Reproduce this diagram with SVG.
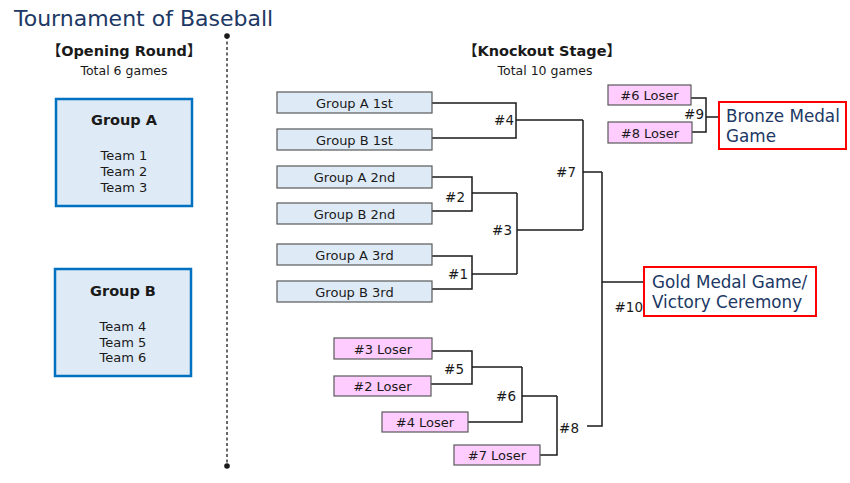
<svg xmlns="http://www.w3.org/2000/svg" width="850" height="483" viewBox="0 0 850 483">
<style>
text{font-family:"DejaVu Sans","Noto Sans CJK JP",sans-serif;fill:#1a1a1a}
.cjk{font-family:"Noto Sans CJK JP",sans-serif}
.title{font-size:22px;fill:#203864}
.hdr{font-size:14.5px;font-weight:bold;text-anchor:middle}
.sub{font-size:12.5px;text-anchor:middle}
.grp{fill:#DEEAF6;stroke:#0070C0;stroke-width:2.5}
.gt{font-size:14.5px;font-weight:bold;text-anchor:middle}
.tm{font-size:13px;text-anchor:middle}
.bb{fill:#DEEAF6;stroke:#595959;stroke-width:1.2}
.pb{fill:#FFCCFF;stroke:#595959;stroke-width:1.2}
.bt{font-size:13px;text-anchor:middle}
.lbl{font-size:13.5px;text-anchor:end}
.rb{fill:#fff;stroke:#FF0000;stroke-width:2}
.rt{font-size:16.8px;fill:#203864}
.ln{fill:none;stroke:#1a1a1a;stroke-width:1.5}
</style>
<text class="title" x="14" y="26">Tournament of Baseball</text>

<g id="divider">
<line x1="227" y1="36" x2="227" y2="466" stroke="#1a1a1a" stroke-width="1.3" stroke-dasharray="3,2.5"/>
<circle cx="227" cy="36" r="2.8" fill="#1a1a1a"/>
<circle cx="227" cy="466" r="2.8" fill="#1a1a1a"/>
</g>

<g id="opening-header">
<text class="hdr" x="124" y="56"><tspan class="cjk">【</tspan>Opening Round<tspan class="cjk">】</tspan></text>
<text class="sub" x="124" y="75">Total 6 games</text>
</g>
<g id="knockout-header">
<text class="hdr" x="542" y="56"><tspan class="cjk">【</tspan>Knockout Stage<tspan class="cjk">】</tspan></text>
<text class="sub" x="545" y="75">Total 10 games</text>
</g>

<g id="groupA">
<rect class="grp" x="56" y="99" width="136" height="107"/>
<text class="gt" x="124" y="125">Group A</text>
<text class="tm" x="124" y="160">Team 1</text>
<text class="tm" x="124" y="176">Team 2</text>
<text class="tm" x="124" y="192">Team 3</text>
</g>
<g id="groupB">
<rect class="grp" x="55" y="269" width="136" height="107"/>
<text class="gt" x="123" y="296">Group B</text>
<text class="tm" x="123" y="331">Team 4</text>
<text class="tm" x="123" y="347">Team 5</text>
<text class="tm" x="123" y="362">Team 6</text>
</g>

<g id="connectors">
<polyline class="ln" points="432,103 516,103 516,138 432,138"/>
<line class="ln" x1="516" y1="120" x2="583" y2="120"/>
<polyline class="ln" points="432,177 472,177 472,211 432,211"/>
<line class="ln" x1="472" y1="193" x2="517" y2="193"/>
<polyline class="ln" points="432,256 472,256 472,289 432,289"/>
<line class="ln" x1="472" y1="274" x2="517" y2="274"/>
<line class="ln" x1="517" y1="193" x2="517" y2="274"/>
<line class="ln" x1="517" y1="230" x2="583" y2="230"/>
<line class="ln" x1="583" y1="120" x2="583" y2="230"/>
<line class="ln" x1="583" y1="172" x2="602" y2="172"/>
<polyline class="ln" points="602,172 602,426 587,426"/>
<line class="ln" x1="602" y1="282" x2="644" y2="282"/>
<polyline class="ln" points="432,351 472,351 472,384 431,384"/>
<line class="ln" x1="472" y1="367" x2="522" y2="367"/>
<polyline class="ln" points="522,367 522,422 468,422"/>
<line class="ln" x1="522" y1="396" x2="557" y2="396"/>
<polyline class="ln" points="557,396 557,455 540,455"/>
<polyline class="ln" points="691,98 706,98 706,132 692,132"/>
<line class="ln" x1="706" y1="117" x2="719" y2="117"/>
</g>

<g id="labels">
<text class="lbl" x="514" y="125">#4</text>
<text class="lbl" x="465" y="202">#2</text>
<text class="lbl" x="468" y="279">#1</text>
<text class="lbl" x="512" y="235">#3</text>
<text class="lbl" x="576" y="177">#7</text>
<text class="lbl" x="643" y="312">#10</text>
<text class="lbl" x="464" y="374">#5</text>
<text class="lbl" x="516" y="401">#6</text>
<text class="lbl" x="579" y="433">#8</text>
<text class="lbl" x="704" y="119">#9</text>
</g>

<g id="ga1"><rect class="bb" x="277" y="92" width="155" height="21"/><text class="bt" x="354.5" y="107.5">Group A 1st</text></g>
<g id="gb1"><rect class="bb" x="277" y="129" width="155" height="21"/><text class="bt" x="354.5" y="144.5">Group B 1st</text></g>
<g id="ga2"><rect class="bb" x="277" y="166" width="155" height="22"/><text class="bt" x="354.5" y="182">Group A 2nd</text></g>
<g id="gb2"><rect class="bb" x="277" y="203" width="155" height="21"/><text class="bt" x="354.5" y="218.5">Group B 2nd</text></g>
<g id="ga3"><rect class="bb" x="277" y="244" width="155" height="21"/><text class="bt" x="354.5" y="259.5">Group A 3rd</text></g>
<g id="gb3"><rect class="bb" x="277" y="281" width="155" height="21"/><text class="bt" x="354.5" y="296.5">Group B 3rd</text></g>

<g id="l3"><rect class="pb" x="334" y="338" width="98" height="21"/><text class="bt" x="383" y="353.5">#3 Loser</text></g>
<g id="l2"><rect class="pb" x="334" y="376" width="97" height="20"/><text class="bt" x="382.5" y="391">#2 Loser</text></g>
<g id="l4"><rect class="pb" x="382" y="412" width="86" height="20"/><text class="bt" x="425" y="427">#4 Loser</text></g>
<g id="l7"><rect class="pb" x="454" y="445" width="86" height="20"/><text class="bt" x="497" y="460">#7 Loser</text></g>
<g id="l6"><rect class="pb" x="608" y="85" width="83" height="20"/><text class="bt" x="649.5" y="100">#6 Loser</text></g>
<g id="l8"><rect class="pb" x="608" y="122" width="84" height="21"/><text class="bt" x="650" y="137.5">#8 Loser</text></g>

<g id="bronze">
<rect class="rb" x="719" y="102" width="127" height="47"/>
<text class="rt" x="726" y="122">Bronze Medal</text>
<text class="rt" x="726" y="142">Game</text>
</g>
<g id="gold">
<rect class="rb" x="644" y="267" width="172" height="49"/>
<text class="rt" x="652" y="288">Gold Medal Game/</text>
<text class="rt" x="652" y="308">Victory Ceremony</text>
</g>
</svg>
